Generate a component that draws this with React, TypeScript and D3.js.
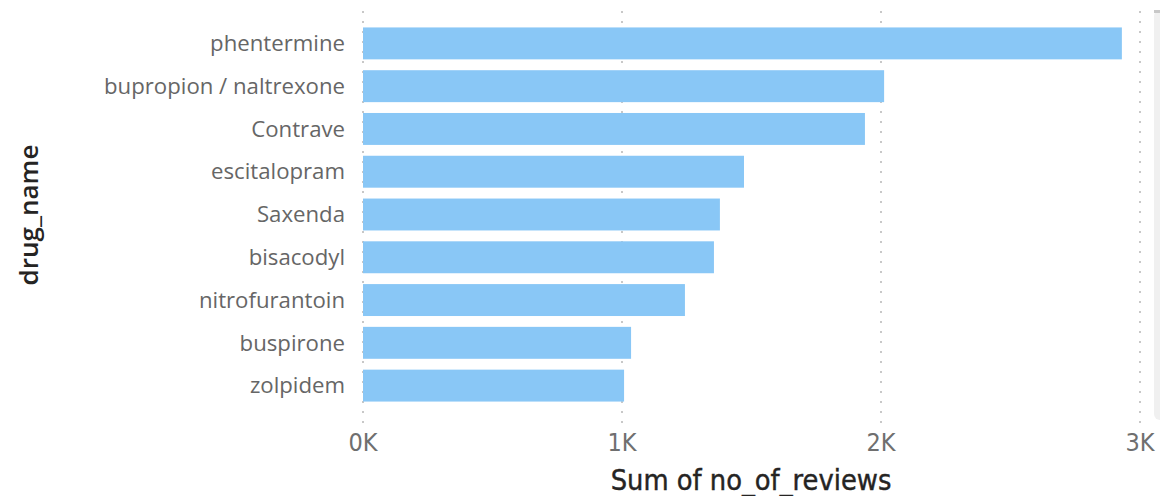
import React from "react";
import * as d3 from "d3";

const drugNames = [
  "phentermine",
  "bupropion / naltrexone",
  "Contrave",
  "escitalopram",
  "Saxenda",
  "bisacodyl",
  "nitrofurantoin",
  "buspirone",
  "zolpidem",
];
const reviewCounts = [2930, 2012, 1938, 1471, 1378, 1355, 1243, 1035, 1008];
const xTicks = [0, 1000, 2000, 3000];
const xTickLabels = ["0K", "1K", "2K", "3K"];

const W = 1160;
const H = 496;
const condensed = "'Liberation Sans Narrow', 'DejaVu Sans Condensed', Roboto, sans-serif";
const labelFont = "'Open Sans', 'Noto Sans', sans-serif";

export default function App() {
  const x = d3.scaleLinear().domain([0, 3000]).range([363, 1140]);
  const y = d3
    .scaleBand<string>()
    .domain(drugNames)
    .range([22, 407])
    .paddingInner(0.2535)
    .paddingOuter(0.127);

  return (
    <svg
      width={W}
      height={H}
      style={{ position: "absolute", left: 0, top: 0, background: "#fff" }}
    >
      {/* scrollbar track */}
      <rect x={1154} y={10} width={20} height={410} rx={6} fill="#f0f0f0" />
      <rect x={1154} y={10} width={20} height={3} fill="#c8c8c8" />
      {/* gridlines */}
      {xTicks.map((t) => (
        <line
          key={t}
          x1={x(t)}
          x2={x(t)}
          y1={11}
          y2={423}
          stroke="#c8c8c8"
          strokeWidth={2}
          strokeDasharray="2 8"
        />
      ))}
      {/* bars */}
      {drugNames.map((d, i) => (
        <rect
          key={d}
          x={x(0)}
          y={y(d)}
          width={x(reviewCounts[i]) - x(0)}
          height={y.bandwidth()}
          fill="#89C7F6"
        />
      ))}
      {/* category labels */}
      {drugNames.map((d) => (
        <text
          key={d}
          x={345}
          y={(y(d) as number) + y.bandwidth() / 2}
          dy="0.35em"
          textAnchor="end"
          fontFamily={labelFont}
          fontSize={22.2}
          fill="#666666"
        >
          {d}
        </text>
      ))}
      {/* x tick labels */}
      {xTicks.map((t, i) => (
        <text
          key={t}
          x={x(t)}
          y={451}
          textAnchor="middle"
          fontFamily={condensed}
          fontSize={25}
          fill="#6f6f6f"
        >
          {xTickLabels[i]}
        </text>
      ))}
      {/* axis titles */}
      <text
        x={751}
        y={490}
        textAnchor="middle"
        fontFamily={condensed}
        fontSize={28.7}
        fill="#252423"
        stroke="#252423"
        strokeWidth={0.4}
      >
        Sum of no_of_reviews
      </text>
      <text
        transform={`translate(38, 215) rotate(-90)`}
        textAnchor="middle"
        fontFamily={labelFont}
        fontSize={26}
        fontWeight={600}
        fill="#252423"
      >
        drug_name
      </text>
    </svg>
  );
}
